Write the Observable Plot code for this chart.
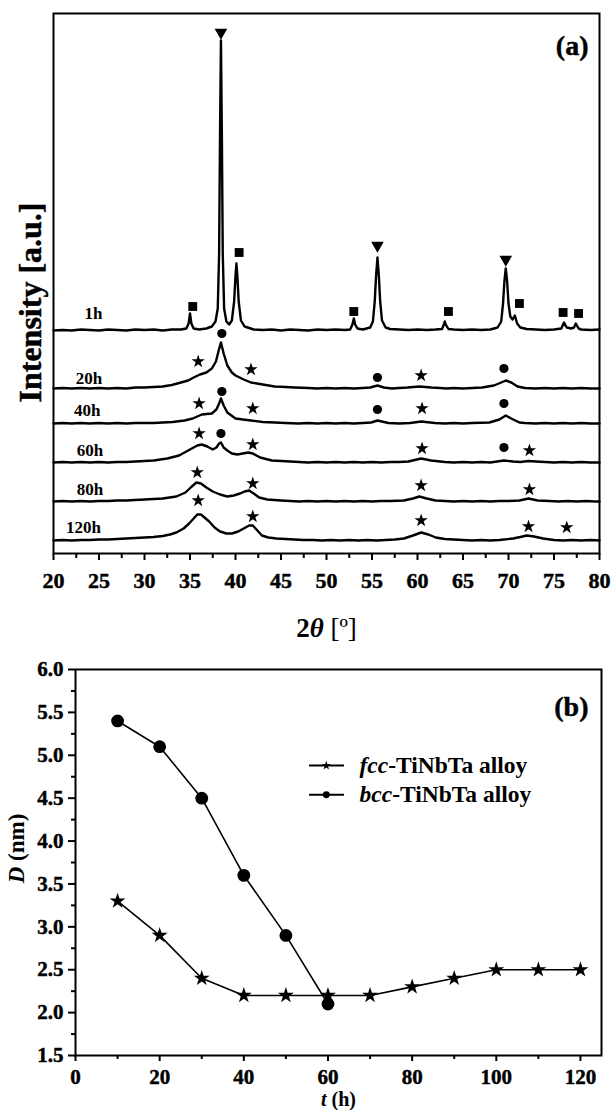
<!DOCTYPE html>
<html><head><meta charset="utf-8">
<script src="https://cdn.jsdelivr.net/npm/d3@7"></script>
<script src="https://cdn.jsdelivr.net/npm/@observablehq/plot@0.6"></script>
<style>
body{margin:0;background:#fff;}
#wrap{width:614px;height:1110px;position:relative;overflow:hidden;}
svg{display:block}
</style></head><body><div id="wrap"></div>
<script>
// ---------- Panel (a): XRD patterns (2θ in degrees, intensity in a.u., offsets included) ----------
const xrd1h = [[20,223],[21,223.5],[22,223],[23,224],[24,223.5],[25,223],[26,224],[27,223.5],[28,223],[29,224],[30,223.5],[31,224],[32,223],[33,224],[34,224],[34.6,225],[34.85,230],[35.0,240],[35.15,230],[35.4,225],[36,224],[36.8,225],[37.4,227],[37.8,232],[38.05,245],[38.2,300],[38.3,420],[38.4,513],[38.5,420],[38.6,300],[38.75,245],[39.0,232],[39.3,229],[39.6,233],[39.85,252],[40.0,278],[40.1,290],[40.2,278],[40.35,252],[40.6,233],[41,227],[42,224],[43,223.5],[44,224],[45,223],[46,224],[47,223.5],[48,223],[49,224],[50,223.5],[51,224],[52,223.5],[52.6,224],[52.85,229],[53.0,235],[53.15,229],[53.4,225],[54,224],[54.8,226],[55.1,232],[55.3,252],[55.45,278],[55.6,296],[55.75,278],[55.9,252],[56.1,233],[56.5,226],[57,224.5],[58,224],[59,223.5],[60,224],[61,223.5],[62,224],[62.7,224.5],[62.9,229],[63.0,232],[63.1,229],[63.4,224.5],[64,224],[65,223.5],[66,224],[67,223.5],[68,224],[68.8,226],[69.2,232],[69.4,250],[69.55,272],[69.7,285],[69.85,272],[70.0,250],[70.2,237],[70.45,234],[70.7,238],[70.95,230],[71.3,226],[72,224.5],[73,224],[74,223.5],[75,224],[75.8,225],[76.1,231],[76.4,226],[76.9,225],[77.2,226],[77.4,230],[77.7,225],[78,224],[79,223.5],[80,224]];
const xrd20h = [[20,165],[21,165.5],[22,165],[23,165.5],[24,165],[25,165.5],[26,165],[27,165.5],[28,165],[29,166],[30,166],[31,166.5],[32,167],[33,168.5],[34,171],[34.8,173],[35.4,176],[36.1,179],[36.8,181],[37.4,185],[37.85,192],[38.15,203],[38.4,211],[38.7,200],[39.1,188],[39.6,181],[40.0,178],[40.9,174],[41.7,171],[43.0,169],[44.3,167],[45.5,166.5],[46.5,166],[48,165.5],[49,165],[50,165.5],[51,165],[52,165.5],[53,165],[54,165.5],[54.8,166],[55.6,168],[56.3,166],[57.2,165],[58,165.5],[58.9,166],[60.2,167],[61.5,166],[62.5,165.5],[63.2,165],[64,165.5],[65,165],[66,165.5],[67.1,166],[68.4,168],[69.2,171],[69.7,173],[70.3,171],[71.0,167],[71.8,165.5],[73,165],[74,165.5],[75,165],[76,165.5],[77,165],[78,165.5],[79,165],[80,165]];
const xrd40h = [[20,130],[21,130.5],[22,130],[23,130.5],[24,130],[25,130.5],[26,130],[27,130.5],[28,130],[29,130.5],[30,130.5],[31,130.5],[32,131],[33.1,131.5],[34.4,133],[35.3,135],[36.3,139],[37.4,140],[37.9,144],[38.2,150],[38.4,155],[38.7,148],[39.1,141],[40.0,135],[40.8,134],[41.7,133],[43,131.5],[44.3,131],[45.5,130.5],[46.9,130],[48,130.5],[49,130],[50,130.5],[51,130],[52,130.5],[53,130],[54,130.5],[54.9,131],[55.6,133],[56.8,130.5],[58,130],[59.2,130.5],[60.4,132],[61.9,130.5],[63,130],[64,130.5],[65,130],[66,130.5],[67.9,131],[69.0,134],[69.7,138],[70.3,135],[71.2,131],[71.8,130.5],[73,130],[74,130.5],[75,130],[76,130.5],[77,130],[78,130.5],[79,130],[80,130]];
const xrd60h = [[20,91],[21,91.5],[22,91],[23,91.5],[24,91],[25,91.5],[26,91],[27,91.5],[28,91.5],[29,92],[30,92.5],[31,93],[32.5,95],[33.8,98],[35.0,104],[35.8,108],[36.3,109],[36.9,107],[37.5,104],[37.9,106],[38.2,110],[38.4,111],[38.7,106],[39.1,103],[39.6,100],[40.2,99],[40.8,100],[41.4,101],[41.9,100],[42.7,96],[44.0,93],[45,92.5],[46,92],[47,91.5],[48,91],[49,91.5],[50,91],[51,91.5],[52,91],[53,91.5],[54,91],[55,91.5],[56,91],[57,91.5],[58,91.5],[59,92],[60.4,95],[61.5,93],[63,91.5],[64,91],[65,91.5],[66,91],[67,91.5],[68,91],[69.5,93],[70.5,92],[71.3,91.5],[72.2,92.5],[73,92],[74,91.5],[75,91],[76,91.5],[77,91],[78,91.5],[79,91],[80,91]];
const xrd80h = [[20,52],[21,52.5],[22,52],[23,52.5],[24,52],[25,52.5],[26,52.5],[27,53],[28,53],[29,53.5],[30,54],[31,54.5],[32,55],[33.5,57],[34.5,61],[35.2,67],[35.7,71],[36.2,70],[36.8,66],[37.5,62],[38.3,59],[39.1,57],[39.8,58],[40.5,60],[41.0,62],[41.5,63],[42.0,60],[42.6,56],[43.5,54],[45,53],[46,52.5],[47,52],[48,52.5],[49,52],[50,52.5],[51,52],[52,52.5],[53,52],[54,52.5],[55,52],[56,52.5],[57,52.5],[58.5,53],[59.5,55],[60.2,57],[61,55],[62,53],[63,52.5],[64,52],[65,52.5],[66,52],[67,52.5],[68,52],[69,52.5],[70,52.5],[71.2,53],[72.2,55],[73.2,53],[74.5,52.5],[75.5,52],[76.5,52.5],[77.5,52],[78.5,52.5],[79.5,52],[80,52]];
const xrd120h = [[20,13],[21,13.5],[22,13],[23,13.5],[24,13.5],[25,14],[26,14],[27,14.5],[28,15],[29,15.5],[30,16],[31,16.5],[32,17.5],[32.8,19],[33.5,21],[34.3,25],[34.9,30],[35.4,35],[35.8,39],[36.2,39],[36.6,36],[37.1,32],[37.7,26],[38.3,22],[39.0,20],[39.6,20],[40.3,22],[40.9,25],[41.5,28],[41.9,28],[42.4,23],[42.9,18],[43.6,16],[44.5,15],[45.5,14.5],[46.5,14],[47.5,13.5],[48.5,13.5],[49.5,13],[50.5,13.5],[51.5,13],[52.5,13.5],[53.5,13],[54.5,13.5],[55.5,13],[56.5,13.5],[57.5,14],[58.5,15],[59.5,18],[60.4,21],[61.2,19],[62,16],[63,14.5],[64,14],[65,13.5],[66,13],[67,13.5],[68,13],[69,13.5],[70.5,15],[71.3,16.5],[72.0,18],[72.8,17],[73.8,15],[75,13.5],[76,13],[77,13.5],[78,13],[79,13.5],[80,13]];
const xrdSeries = [xrd1h, xrd20h, xrd40h, xrd60h, xrd80h, xrd120h];
const sampleLabels = ["1h", "20h", "40h", "60h", "80h", "120h"];
const sampleLabelPos = [[24.4,240],[23.9,175],[23.7,143],[24.0,103],[24.0,64],[23.3,26]];
// phase markers (peak position 2θ, marker height in a.u.)
const markTriangle = [[38.4,521],[55.6,308],[69.7,294]];
const markSquare = [[35.3,247],[40.4,301],[53.0,242],[63.4,242],[71.2,250],[76.0,241],[77.7,240]];
const markBcc = [[38.5,220],[55.6,176],[69.5,185],[38.5,162],[55.6,144],[69.5,150],[38.4,120],[69.5,106]];
const markFcc = [[35.9,192],[41.7,184],[60.4,178],[36.0,150],[41.9,145],[60.5,145],[36.0,120],[41.9,109],[60.5,105],[72.3,103],[35.8,81],[41.9,70],[60.4,68],[72.3,64],[35.9,53],[41.9,37],[60.4,33],[72.2,27],[76.4,26]];
const xTicksA = [20,25,30,35,40,45,50,55,60,65,70,75,80];
const xMinorA = [22.5,27.5,32.5,37.5,42.5,47.5,52.5,57.5,62.5,67.5,72.5,77.5];

// ---------- Panel (b): crystallite size ----------
const timeFcc = [10,20,30,40,50,60,70,80,90,100,110,120];
const sizeFcc = [3.3,2.9,2.4,2.2,2.2,2.2,2.2,2.3,2.4,2.5,2.5,2.5];
const timeBcc = [10,20,30,40,50,60];
const sizeBcc = [5.4,5.1,4.5,3.6,2.9,2.1];
const seriesNames = ["fcc-TiNbTa alloy", "bcc-TiNbTa alloy"];
const xTicksB = [0,20,40,60,80,100,120];
const xMinorB = [10,30,50,70,90,110];
const yTicksB = [1.5,2.0,2.5,3.0,3.5,4.0,4.5,5.0,5.5,6.0];
const yMinorB = [1.75,2.25,2.75,3.25,3.75,4.25,4.75,5.25,5.75];

const FONT = "'Liberation Serif','Times New Roman',serif";
const X = d => d[0], Y = d => d[1];
const noLabel = () => "";
const heavy = {fontWeight: "bold", fill: "#000", stroke: "#000", strokeWidth: 0.45};

const plotA = Plot.plot({
  width: 614, height: 645,
  marginTop: 13, marginBottom: 92, marginLeft: 53, marginRight: 15,
  x: {domain: [20, 80]},
  y: {domain: [0, 540], axis: null},
  style: {fontFamily: FONT, background: "transparent", color: "#000"},
  marks: [
    ...xrdSeries.map(s => Plot.line(s, {x: X, y: Y, stroke: "#000", strokeWidth: 2.4, curve: "linear"})),
    Plot.dot(markTriangle, {x: X, y: Y, symbol: "triangle", r: 4.7, fill: "#000", stroke: "none", rotate: 180}),
    Plot.dot(markSquare, {x: X, y: Y, symbol: "square", r: 5, fill: "#000", stroke: "none"}),
    Plot.dot(markBcc, {x: X, y: Y, symbol: "circle", r: 4.6, fill: "#000", stroke: "none"}),
    Plot.dot(markFcc, {x: X, y: Y, symbol: "star", r: 4.2, fill: "#000", stroke: "none"}),
    Plot.text(sampleLabelPos, {x: X, y: Y, text: (d, i) => sampleLabels[i], fontSize: 17, fontWeight: "bold", fill: "#000"}),
    Plot.frame({stroke: "#000", strokeWidth: 2}),
    Plot.axisX({ticks: xTicksA, tickSize: 7, strokeWidth: 2, label: null, tickFormat: noLabel}),
    Plot.axisX({ticks: xMinorA, tickSize: 5, strokeWidth: 2, label: null, tickFormat: noLabel}),
    Plot.text(xTicksA, {x: d => d, frameAnchor: "bottom", lineAnchor: "middle", textAnchor: "middle", dy: 27, text: d => String(d), fontSize: 22, ...heavy}),
    Plot.text(["(a)"], {frameAnchor: "top-right", textAnchor: "end", lineAnchor: "middle", dx: -11, dy: 33, fontSize: 28, ...heavy}),
    Plot.text(["Intensity [a.u.]"], {frameAnchor: "left", textAnchor: "middle", lineAnchor: "middle", rotate: -90, dx: -23, dy: 19, fontSize: 32, ...heavy}),
    Plot.text(["2θ [º]"], {frameAnchor: "bottom", textAnchor: "middle", lineAnchor: "middle", dy: 75, fontSize: 27, fontWeight: "bold"})
  ]
});

const fccData = timeFcc.map((t, i) => ({t, d: sizeFcc[i]}));
const bccData = timeBcc.map((t, i) => ({t, d: sizeBcc[i]}));
// legend rows (anchors inside the frame)
const legRows = [{y: 4.88, sym: "star", r: 3.4, name: seriesNames[0]}, {y: 4.54, sym: "circle", r: 5, name: seriesNames[1]}];

const plotB = Plot.plot({
  width: 614, height: 465,
  marginTop: 24, marginBottom: 55, marginLeft: 75, marginRight: 13,
  x: {domain: [0, 125]},
  y: {domain: [1.5, 6.0]},
  style: {fontFamily: FONT, background: "transparent", color: "#000"},
  marks: [
    Plot.line(fccData, {x: "t", y: "d", stroke: "#000", strokeWidth: 1.6}),
    Plot.line(bccData, {x: "t", y: "d", stroke: "#000", strokeWidth: 1.6}),
    Plot.dot(fccData, {x: "t", y: "d", symbol: "star", r: 5, fill: "#000", stroke: "none"}),
    Plot.dot(bccData, {x: "t", y: "d", symbol: "circle", r: 6.4, fill: "#000", stroke: "none"}),
    Plot.link(legRows, {x1: 55.5, x2: 63.8, y1: "y", y2: "y", stroke: "#000", strokeWidth: 2}),
    Plot.dot(legRows, {x: 59.6, y: "y", symbol: d => d.sym, r: d => d.r, fill: "#000", stroke: "none"}),
    Plot.text(legRows, {x: 67.5, y: "y", text: "name", textAnchor: "start", fontSize: 23.5, fontWeight: "bold", fill: "#000"}),
    Plot.frame({stroke: "#000", strokeWidth: 2}),
    Plot.axisX({ticks: xTicksB, tickSize: 6, strokeWidth: 2, label: null, tickFormat: noLabel}),
    Plot.axisX({ticks: xMinorB, tickSize: 4, strokeWidth: 2, label: null, tickFormat: noLabel}),
    Plot.axisY({ticks: yTicksB, tickSize: 7, strokeWidth: 2, label: null, tickFormat: noLabel}),
    Plot.axisY({ticks: yMinorB, tickSize: 4, strokeWidth: 2, label: null, tickFormat: noLabel}),
    Plot.text(xTicksB, {x: d => d, frameAnchor: "bottom", lineAnchor: "middle", textAnchor: "middle", dy: 22, text: d => String(d), fontSize: 21, ...heavy}),
    Plot.text(yTicksB, {y: d => d, frameAnchor: "left", lineAnchor: "middle", textAnchor: "end", dx: -12, text: d => d3.format(".1f")(d), fontSize: 21, ...heavy}),
    Plot.text(["(b)"], {frameAnchor: "top-right", textAnchor: "end", lineAnchor: "middle", dx: -13, dy: 38, fontSize: 28, ...heavy}),
    Plot.text(["D (nm)"], {frameAnchor: "left", textAnchor: "middle", lineAnchor: "middle", rotate: -90, dx: -59, dy: -14, fontSize: 23, fontWeight: "bold"}),
    Plot.text(["t (h)"], {frameAnchor: "bottom", textAnchor: "middle", lineAnchor: "middle", dy: 44, fontSize: 20, fontWeight: "bold"})
  ]
});

function richText(svg) {
  svg.querySelectorAll("text").forEach(el => {
    const s = el.textContent;
    if (s === "2θ [º]") el.innerHTML = '2<tspan font-style="italic">θ</tspan> <tspan font-weight="normal">[º]</tspan>';
    else if (s === "D (nm)") el.innerHTML = '<tspan font-style="italic">D</tspan> (nm)';
    else if (s === "t (h)") el.innerHTML = '<tspan font-style="italic">t</tspan> (h)';
    else if (s === "fcc-TiNbTa alloy") el.innerHTML = '<tspan font-style="italic">fcc</tspan>-TiNbTa alloy';
    else if (s === "bcc-TiNbTa alloy") el.innerHTML = '<tspan font-style="italic">bcc</tspan>-TiNbTa alloy';
  });
}
richText(plotA); richText(plotB);
const wrap = document.getElementById("wrap");
wrap.appendChild(plotA);
wrap.appendChild(plotB);
</script></body></html>
